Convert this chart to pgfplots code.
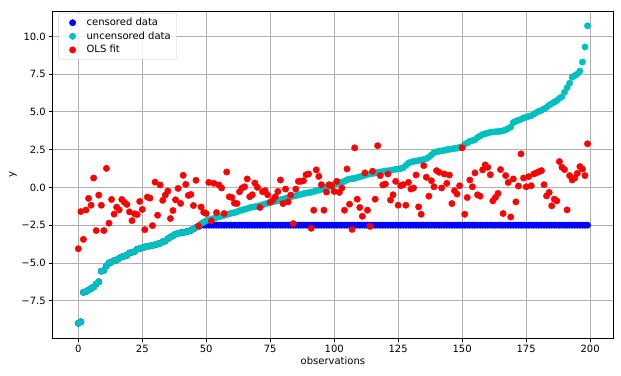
\documentclass[border=0pt]{standalone}
\usepackage{fontspec}
\setmainfont{DejaVu Sans}
\usepackage{pgfplots}
\usepackage{pgfplotstable}
\pgfplotsset{compat=1.18}
\definecolor{mplc}{rgb}{0,0.75,0.75}
\definecolor{gridgray}{rgb}{0.69,0.69,0.69}
\definecolor{legframe}{rgb}{0.8,0.8,0.8}

% uncensored data (sorted)
\pgfplotstableread[row sep=\\]{
y\\
-9.0\\ -8.9\\ -6.95\\ -6.9\\ -6.8\\ -6.7\\ -6.6\\ -6.4\\ -6.25\\ -5.55\\
-5.5\\ -5.2\\ -5.0\\ -4.95\\ -4.85\\ -4.8\\ -4.7\\ -4.6\\ -4.55\\ -4.5\\
-4.35\\ -4.3\\ -4.25\\ -4.1\\ -4.05\\ -4.0\\ -3.95\\ -3.9\\ -3.88\\ -3.85\\
-3.8\\ -3.75\\ -3.7\\ -3.6\\ -3.55\\ -3.4\\ -3.3\\ -3.2\\ -3.1\\ -3.05\\
-3.0\\ -2.98\\ -2.95\\ -2.9\\ -2.85\\ -2.75\\ -2.65\\ -2.6\\ -2.4\\ -2.3\\
-2.2\\ -2.15\\ -2.1\\ -2.05\\ -2.0\\ -1.95\\ -1.9\\ -1.85\\ -1.8\\ -1.75\\
-1.7\\ -1.67\\ -1.62\\ -1.55\\ -1.5\\ -1.45\\ -1.4\\ -1.35\\ -1.3\\ -1.28\\
-1.25\\ -1.2\\ -1.15\\ -1.1\\ -1.05\\ -1.0\\ -0.95\\ -0.92\\ -0.88\\ -0.82\\
-0.78\\ -0.72\\ -0.68\\ -0.62\\ -0.58\\ -0.55\\ -0.5\\ -0.46\\ -0.42\\ -0.38\\
-0.35\\ -0.32\\ -0.28\\ -0.22\\ -0.18\\ -0.12\\ -0.05\\ 0.0\\ 0.05\\ 0.1\\
0.2\\ 0.25\\ 0.3\\ 0.35\\ 0.4\\ 0.5\\ 0.55\\ 0.58\\ 0.6\\ 0.65\\
0.7\\ 0.75\\ 0.8\\ 0.85\\ 0.9\\ 0.92\\ 0.95\\ 1.0\\ 1.02\\ 1.05\\
1.08\\ 1.1\\ 1.12\\ 1.15\\ 1.2\\ 1.22\\ 1.25\\ 1.3\\ 1.45\\ 1.6\\
1.68\\ 1.72\\ 1.75\\ 1.78\\ 1.8\\ 1.85\\ 1.9\\ 2.0\\ 2.15\\ 2.3\\
2.35\\ 2.4\\ 2.42\\ 2.45\\ 2.5\\ 2.52\\ 2.55\\ 2.58\\ 2.6\\ 2.65\\
2.7\\ 2.85\\ 2.95\\ 3.05\\ 3.1\\ 3.15\\ 3.3\\ 3.4\\ 3.5\\ 3.55\\
3.6\\ 3.65\\ 3.67\\ 3.68\\ 3.7\\ 3.72\\ 3.75\\ 3.8\\ 3.9\\ 4.0\\
4.3\\ 4.38\\ 4.45\\ 4.5\\ 4.6\\ 4.65\\ 4.7\\ 4.75\\ 4.85\\ 4.95\\
5.05\\ 5.1\\ 5.2\\ 5.3\\ 5.45\\ 5.55\\ 5.65\\ 5.75\\ 5.9\\ 6.0\\
6.3\\ 6.6\\ 6.9\\ 7.3\\ 7.4\\ 7.5\\ 7.7\\ 8.3\\ 9.3\\ 10.7\\
}\uncens

% censored data
\pgfplotstableread[row sep=\\]{
y\\
-9.0\\ -8.9\\ -6.95\\ -6.9\\ -6.8\\ -6.7\\ -6.6\\ -6.4\\ -6.25\\ -5.55\\
-5.5\\ -5.2\\ -5.0\\ -4.95\\ -4.85\\ -4.8\\ -4.7\\ -4.6\\ -4.55\\ -4.5\\
-4.35\\ -4.3\\ -4.25\\ -4.1\\ -4.05\\ -4.0\\ -3.95\\ -3.9\\ -3.88\\ -3.85\\
-3.8\\ -3.75\\ -3.7\\ -3.6\\ -3.55\\ -3.4\\ -3.3\\ -3.2\\ -3.1\\ -3.05\\
-3.0\\ -2.98\\ -2.95\\ -2.9\\ -2.85\\ -2.75\\ -2.65\\ -2.6\\
-2.5\\ -2.5\\ -2.5\\ -2.5\\ -2.5\\ -2.5\\ -2.5\\ -2.5\\ -2.5\\ -2.5\\ -2.5\\ -2.5\\ -2.5\\ -2.5\\ -2.5\\ -2.5\\
-2.5\\ -2.5\\ -2.5\\ -2.5\\ -2.5\\ -2.5\\ -2.5\\ -2.5\\ -2.5\\ -2.5\\ -2.5\\ -2.5\\ -2.5\\ -2.5\\ -2.5\\ -2.5\\
-2.5\\ -2.5\\ -2.5\\ -2.5\\ -2.5\\ -2.5\\ -2.5\\ -2.5\\ -2.5\\ -2.5\\ -2.5\\ -2.5\\ -2.5\\ -2.5\\ -2.5\\ -2.5\\
-2.5\\ -2.5\\ -2.5\\ -2.5\\ -2.5\\ -2.5\\ -2.5\\ -2.5\\ -2.5\\ -2.5\\ -2.5\\ -2.5\\ -2.5\\ -2.5\\ -2.5\\ -2.5\\
-2.5\\ -2.5\\ -2.5\\ -2.5\\ -2.5\\ -2.5\\ -2.5\\ -2.5\\ -2.5\\ -2.5\\ -2.5\\ -2.5\\ -2.5\\ -2.5\\ -2.5\\ -2.5\\
-2.5\\ -2.5\\ -2.5\\ -2.5\\ -2.5\\ -2.5\\ -2.5\\ -2.5\\ -2.5\\ -2.5\\ -2.5\\ -2.5\\ -2.5\\ -2.5\\ -2.5\\ -2.5\\
-2.5\\ -2.5\\ -2.5\\ -2.5\\ -2.5\\ -2.5\\ -2.5\\ -2.5\\ -2.5\\ -2.5\\ -2.5\\ -2.5\\ -2.5\\ -2.5\\ -2.5\\ -2.5\\
-2.5\\ -2.5\\ -2.5\\ -2.5\\ -2.5\\ -2.5\\ -2.5\\ -2.5\\ -2.5\\ -2.5\\ -2.5\\ -2.5\\ -2.5\\ -2.5\\ -2.5\\ -2.5\\
-2.5\\ -2.5\\ -2.5\\ -2.5\\ -2.5\\ -2.5\\ -2.5\\ -2.5\\ -2.5\\ -2.5\\ -2.5\\ -2.5\\ -2.5\\ -2.5\\ -2.5\\ -2.5\\
-2.5\\ -2.5\\ -2.5\\ -2.5\\ -2.5\\ -2.5\\ -2.5\\ -2.5\\
}\cens

% OLS fit
\pgfplotstableread[row sep=\\]{
y\\
-4.06\\ -1.6\\ -3.44\\ -1.5\\ -0.73\\ -1.18\\ 0.62\\ -2.86\\ -0.51\\ -1.18\\
-2.86\\ 1.26\\ -2.37\\ -0.8\\ -1.77\\ -1.31\\ -1.49\\ -0.8\\ -0.98\\ -1.13\\
-1.62\\ -2.2\\ -1.75\\ -1.8\\ -0.93\\ -1.46\\ -2.8\\ -0.64\\ -0.71\\ -2.53\\
0.35\\ -1.84\\ 0.16\\ -0.86\\ -0.51\\ -0.24\\ -2.06\\ -1.53\\ -0.82\\ -0.07\\
-1.06\\ 0.8\\ 0.2\\ -0.53\\ -0.47\\ -1.2\\ 0.47\\ -2.55\\ -1.3\\ -1.65\\
-1.73\\ 0.33\\ -2.22\\ 0.27\\ -1.67\\ 0.16\\ -0.04\\ -1.73\\ 1.02\\ -0.62\\
-0.67\\ -1.04\\ -1.07\\ -0.29\\ -0.04\\ 0.04\\ 0.56\\ -0.62\\ -0.49\\ 0.29\\
0\\ -1.33\\ -0.29\\ -0.22\\ -0.49\\ -0.98\\ -0.84\\ -0.62\\ -0.27\\ 0.49\\
-1.07\\ -0.11\\ -0.96\\ -0.51\\ -2.4\\ -0.11\\ 0.4\\ 0.4\\ 0.44\\ 0.84\\
0.89\\ -2.71\\ -1.51\\ 1.16\\ 0.73\\ 0.18\\ -1.51\\ -0.31\\ 0.18\\ 0.11\\
-0.27\\ 0.4\\ -0.33\\ -0.04\\ -1.51\\ 1.22\\ -1.11\\ -2.78\\ 2.62\\ -0.78\\
-1.33\\ -1.91\\ 0.96\\ -1.51\\ -2.58\\ 1.07\\ -0.78\\ 2.76\\ 0.78\\ 0.16\\
0.22\\ 0.89\\ -0.84\\ -0.49\\ 0.4\\ -1.18\\ 0.11\\ 0.18\\ -1.18\\ 0.33\\
-0.11\\ -0.04\\ 0.82\\ -1.29\\ -1.78\\ 1.44\\ 0.67\\ -0.58\\ 0.44\\ 0.04\\
1.11\\ 1.0\\ -0.04\\ 0.89\\ 0.27\\ 0.82\\ -1.07\\ -0.22\\ -0.44\\ 0.11\\
2.62\\ -1.78\\ -0.67\\ 0.49\\ 0.04\\ 0.96\\ -0.49\\ -0.58\\ 1.16\\ 1.49\\
1.33\\ 0.84\\ -0.89\\ -0.67\\ -0.4\\ 1.18\\ -1.73\\ 0.78\\ 0.33\\ -1.96\\
0.56\\ -0.96\\ 0.09\\ 2.22\\ 0.62\\ 0.04\\ 0.71\\ 0.11\\ 0.89\\ 0.96\\
1.04\\ 1.11\\ 0.18\\ -0.56\\ -0.33\\ -1.22\\ -0.78\\ -0.89\\ 1.71\\ 1.33\\
1.18\\ -1.49\\ 0.78\\ 0.49\\ 0.62\\ 0.93\\ 1.38\\ 1.22\\ 0.78\\ 2.89\\
}\ols

\pgfplotsset{
  mpldot/.style={only marks, mark=*, mark size=3.2pt,
    mark options={draw=#1, fill=#1},
    legend image code/.code={\path[draw=none,fill=none] (0pt,-3pt) rectangle (22pt,3pt); \draw[##1, fill opacity=1, draw opacity=1, opacity=1] plot coordinates {(10pt,0pt)};}},
}

\begin{document}
\begin{tikzpicture}[font=\fontsize{10}{12}\selectfont]
\begin{axis}[
  name=ax,
  scale only axis,
  width=560pt, height=327pt,
  xmin=-9.95, xmax=208.95, ymin=-9.98, ymax=11.68,
  xtick={0,25,50,75,100,125,150,175,200},
  ytick={-7.5,-5,-2.5,0,2.5,5,7.5,10},
  yticklabels={−7.5,−5.0,−2.5,0.0,2.5,5.0,7.5,10.0},
  /pgf/number format/assume math mode=true,
  grid=major,
  grid style={gridgray, line width=0.8pt},
  axis line style={black, line width=0.8pt},
  tick align=outside, tick pos=left,
  major tick length=3.5pt,
  tick style={black, line width=0.8pt},
  xlabel={observations}, ylabel={y},
  xlabel style={yshift=3pt},
  ylabel style={yshift=-2pt},
  legend cell align=left,
  legend style={at={(axis description cs:0.01,0.994)}, anchor=north west,
    draw=legframe, rounded corners=2pt, fill=white, fill opacity=0.8, text opacity=1,
    inner xsep=4pt, inner ysep=3pt, row sep=0.5pt,
    font=\fontsize{10}{12}\selectfont},
]
\addplot[mpldot=blue] table[x expr=\coordindex, y=y] {\cens};
\addlegendentry{censored data}
\addplot[mpldot=mplc] table[x expr=\coordindex, y=y] {\uncens};
\addlegendentry{uncensored data}
\addplot[mpldot=red] table[x expr=\coordindex, y=y] {\ols};
\addlegendentry{OLS fit}
\end{axis}
\pgfresetboundingbox
\path[use as bounding box] ([xshift=-52.8pt,yshift=-37pt]ax.south west) rectangle ([xshift=8pt,yshift=11pt]ax.north east);
\end{tikzpicture}
\end{document}
